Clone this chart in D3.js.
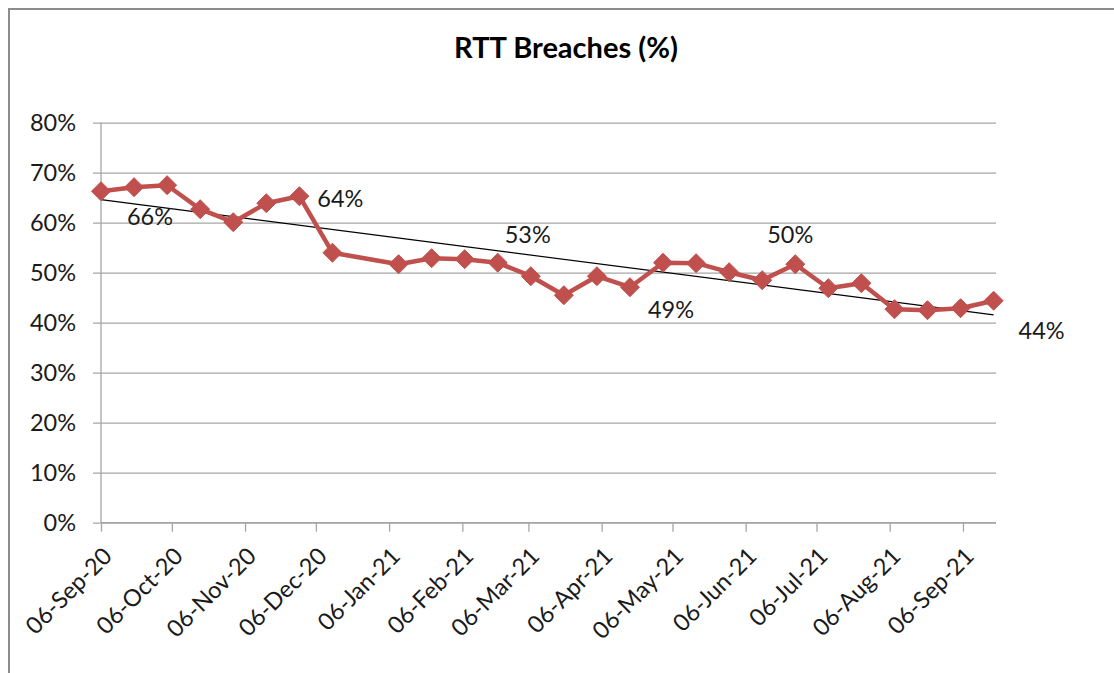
<!DOCTYPE html>
<html>
<head>
<meta charset="utf-8">
<script src="https://cdn.jsdelivr.net/npm/d3@7"></script>
<style>
  html, body { margin: 0; padding: 0; background: #fff; }
  svg { display: block; font-family: Lato, "Open Sans", sans-serif; }
</style>
</head>
<body>
<svg id="chart" width="1114" height="673"></svg>
<script>
// ---- data ----
const title = "RTT Breaches (%)";
const dates = ["2020-09-06","2020-09-20","2020-10-04","2020-10-18","2020-11-01","2020-11-15","2020-11-29","2020-12-13",
  "2021-01-10","2021-01-24","2021-02-07","2021-02-21","2021-03-07","2021-03-21","2021-04-04","2021-04-18",
  "2021-05-02","2021-05-16","2021-05-30","2021-06-13","2021-06-27","2021-07-11","2021-07-25","2021-08-08",
  "2021-08-22","2021-09-05","2021-09-19"];
const values = [66.3, 67.1, 67.5, 62.7, 60.1, 63.9, 65.3, 54.0,
  51.7, 52.9, 52.7, 52.0, 49.3, 45.5, 49.3, 47.1,
  52.0, 51.9, 50.1, 48.5, 51.7, 46.9, 47.9, 42.7,
  42.5, 42.9, 44.4];
const yTicks = [0, 10, 20, 30, 40, 50, 60, 70, 80];
const xTickDates = ["2020-09-06","2020-10-06","2020-11-06","2020-12-06","2021-01-06","2021-02-06","2021-03-06",
  "2021-04-06","2021-05-06","2021-06-06","2021-07-06","2021-08-06","2021-09-06"];
const labelTexts = ["66%", "64%", "53%", "49%", "50%", "44%"];
const labelPoints = [0, 6, 11, 15, 20, 26];

// ---- layout / style ----
const parse = d3.timeParse("%Y-%m-%d");
const fmt = d3.timeFormat("%d-%b-%y");
const labelOffsets = [[49, 34, "middle"], [18, 11, "start"], [30, -20, "middle"], [41, 31, "middle"], [-5, -21, "middle"], [48, 38, "middle"]];
const red = "#c0504d";
const gridColor = "#a6a6a6";
const fs = 23.5;

const svg = d3.select("#chart");

// outer frame
svg.append("path")
  .attr("d", "M9,680 L9,9 L1120,9")
  .attr("fill", "none").attr("stroke", "#8c8c8c").attr("stroke-width", 2);

const x = d3.scaleTime()
  .domain([parse("2020-09-06"), parse("2021-09-20")])
  .range([101, 996]);
const y = d3.scaleLinear().domain([0, 80]).range([522.7, 122.7]);

// title
svg.append("text")
  .attr("x", 566).attr("y", 58)
  .attr("text-anchor", "middle")
  .attr("font-size", 29).attr("font-weight", "bold").attr("fill", "#000")
  .text(title);

// y gridlines + labels
const yAxis = svg.append("g").attr("transform", "translate(101,0)")
  .call(d3.axisLeft(y).tickValues(yTicks).tickSizeInner(-(996 - 101)).tickFormat(d => d + "%").tickPadding(0));
yAxis.select(".domain").remove();
yAxis.selectAll(".tick line").attr("stroke", gridColor).attr("stroke-width", 1.3)
  .attr("x1", -8).attr("x2", 996 - 101);
yAxis.selectAll(".tick text")
  .attr("x", -25).attr("dy", "0.35em")
  .attr("font-size", fs).attr("fill", "#1a1a1a").attr("font-family", "Lato, sans-serif");

// y axis line
svg.append("line").attr("x1", 101).attr("x2", 101).attr("y1", y(80)).attr("y2", y(0))
  .attr("stroke", gridColor).attr("stroke-width", 1.3);

// x axis
const xAxis = svg.append("g").attr("transform", `translate(0,${y(0)})`)
  .call(d3.axisBottom(x).tickValues(xTickDates.map(parse)).tickSize(9).tickFormat(fmt));
xAxis.select(".domain").attr("stroke", gridColor).attr("stroke-width", 1.3)
  .attr("d", `M101,0H996`);
xAxis.selectAll(".tick line").attr("stroke", gridColor).attr("stroke-width", 1.3);
xAxis.selectAll(".tick text")
  .attr("font-size", fs).attr("fill", "#1a1a1a").attr("font-family", "Lato, sans-serif")
  .attr("text-anchor", "end")
  .attr("y", 0).attr("dy", 0)
  .attr("transform", "translate(12,35) rotate(-45)");

// data
const data = dates.map((d, i) => ({ date: parse(d), value: values[i] }));

// trendline (least squares on dates)
const xs = data.map(d => d.date.getTime());
const ys = data.map(d => d.value);
const n = xs.length;
const mx = d3.mean(xs), my = d3.mean(ys);
let sxy = 0, sxx = 0;
for (let i = 0; i < n; i++) { sxy += (xs[i] - mx) * (ys[i] - my); sxx += (xs[i] - mx) ** 2; }
const slope = sxy / sxx, icpt = my - slope * mx;
const t0 = xs[0], t1 = xs[n - 1];
svg.append("line")
  .attr("x1", x(new Date(t0))).attr("y1", y(icpt + slope * t0))
  .attr("x2", x(new Date(t1))).attr("y2", y(icpt + slope * t1))
  .attr("stroke", "#000").attr("stroke-width", 1.2);

// series line
svg.append("path").datum(data)
  .attr("d", d3.line().x(d => x(d.date)).y(d => y(d.value)))
  .attr("fill", "none").attr("stroke", red).attr("stroke-width", 4.5).attr("stroke-linejoin", "round");

// diamond markers
const r = 9.5;
svg.append("g").selectAll("path").data(data).join("path")
  .attr("transform", d => `translate(${x(d.date)},${y(d.value)})`)
  .attr("d", `M0,${-r}L${r},0L0,${r}L${-r},0Z`)
  .attr("fill", red).attr("stroke", red).attr("stroke-width", 1);

// data labels
svg.append("g").selectAll("text").data(labelTexts).join("text")
  .attr("x", (t, i) => x(data[labelPoints[i]].date) + labelOffsets[i][0])
  .attr("y", (t, i) => y(data[labelPoints[i]].value) + labelOffsets[i][1])
  .attr("text-anchor", (t, i) => labelOffsets[i][2])
  .attr("font-size", fs).attr("fill", "#1a1a1a")
  .text(t => t);
</script>
</body>
</html>
